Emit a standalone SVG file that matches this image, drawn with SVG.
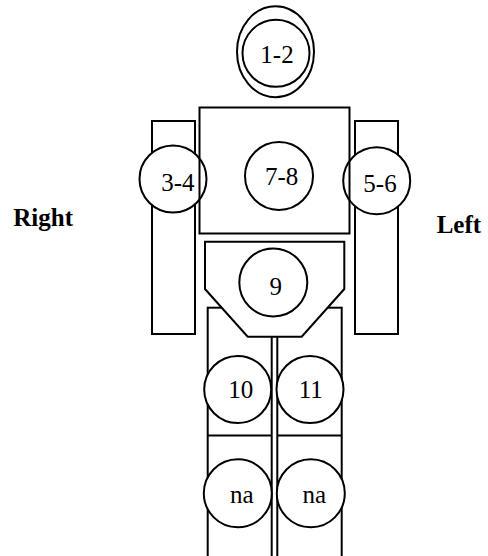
<svg xmlns="http://www.w3.org/2000/svg" width="488" height="556" viewBox="0 0 488 556">
<style>
.s{fill:#fff;stroke:#000;stroke-width:2}
.o{fill:none;stroke:#000;stroke-width:2}
text{font-family:'Liberation Serif','Times New Roman',Times,serif;font-size:25px;fill:#000}
.t{text-anchor:middle}
.b{font-weight:bold}
</style>
<g id="head">
<ellipse class="s" cx="275.5" cy="51.7" rx="38.5" ry="45.5"/>
<circle class="s" cx="276" cy="53.3" r="33.5"/>
<text class="t" x="277" y="63.3" font-family="Liberation Serif, serif">1-2</text>
</g>
<g id="arm-right">
<rect class="s" x="152" y="121" width="43" height="213"/>
</g>
<g id="arm-left">
<rect class="s" x="355" y="121" width="43" height="213"/>
</g>
<g id="node-3-4">
<circle class="s" cx="173" cy="179" r="33.5"/>
<text class="t" x="177.8" y="191">3-4</text>
</g>
<g id="node-5-6">
<circle class="s" cx="376.7" cy="180.7" r="33.5"/>
<text class="t" x="380" y="191.7">5-6</text>
</g>
<g id="torso">
<rect class="o" x="199.5" y="107.5" width="150" height="126"/>
</g>
<g id="node-7-8">
<circle class="s" cx="279" cy="176" r="34"/>
<text class="t" x="281.7" y="185">7-8</text>
</g>
<g id="leg-right">
<rect class="s" x="207.7" y="307.7" width="64" height="260"/>
<line class="o" x1="207.7" y1="435.5" x2="271.7" y2="435.5"/>
</g>
<g id="leg-left">
<rect class="s" x="277.3" y="307.7" width="64.4" height="260"/>
<line class="o" x1="277.3" y1="435.5" x2="341.7" y2="435.5"/>
</g>
<g id="pelvis">
<polygon class="s" points="205,241.7 344.3,241.7 344.3,289 301.7,336.7 247.7,336.7 205,289"/>
</g>
<g id="node-9">
<circle class="s" cx="273.3" cy="282.5" r="34"/>
<text class="t" x="275.7" y="295">9</text>
</g>
<g id="node-10">
<circle class="s" cx="237.7" cy="389.5" r="33.5"/>
<text class="t" x="240.8" y="398.3">10</text>
</g>
<g id="node-11">
<circle class="s" cx="310" cy="389.5" r="33.5"/>
<text class="t" x="310.8" y="398.3">11</text>
</g>
<g id="node-na-right">
<circle class="s" cx="237.8" cy="493.3" r="34"/>
<text class="t" x="241.8" y="502.7">na</text>
</g>
<g id="node-na-left">
<circle class="s" cx="310.8" cy="493.3" r="34"/>
<text class="t" x="314.2" y="502.7">na</text>
</g>
<g id="labels">
<text class="b" x="13.3" y="225.7">Right</text>
<text class="b" x="436.7" y="233">Left</text>
</g>
</svg>
